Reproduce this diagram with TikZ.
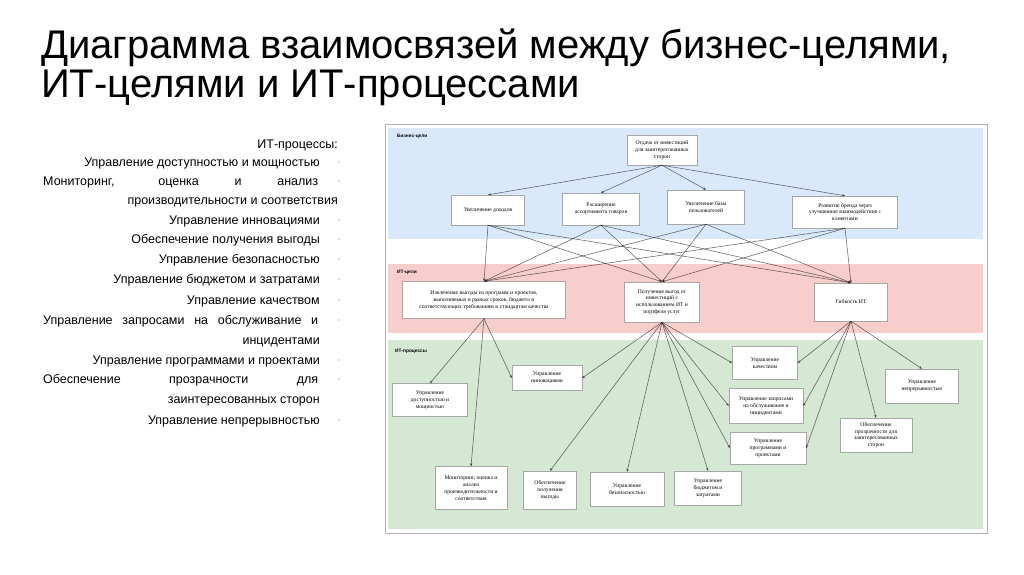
\documentclass[tikz,border=0pt]{standalone}
\usepackage{fontspec}
\setmainfont{Liberation Sans}
\newfontfamily\boxfont{Liberation Serif}
\usetikzlibrary{arrows.meta}

\definecolor{bizfill}{HTML}{DAE8FC}
\definecolor{itfill}{HTML}{F8CECC}
\definecolor{procfill}{HTML}{D5E8D4}

\begin{document}
\begin{tikzpicture}[
    x=1pt, y=-1pt,
    box/.style={draw=gray!70, fill=white, align=center, inner sep=1pt,
        font=\boxfont\fontsize{5.6}{6.8}\selectfont},
    bandname/.style={font=\bfseries\fontsize{4.8}{5}\selectfont, anchor=west, inner sep=0pt},
    link/.style={draw=black!85, draw opacity=0.7, line width=0.55pt,
        -{Stealth[length=3pt,width=2.4pt]}},
    listline/.style={font=\fontsize{12.5}{15}\selectfont, inner sep=0pt},
    headline/.style={font=\fontsize{40}{44}\selectfont, inner sep=0pt, anchor=base west}
]
\useasboundingbox (0,0) rectangle (1024,574);

% title
\node[headline] (t1) at (41,58) {Диаграмма взаимосвязей между бизнес-целями,};
\node[headline] (t2) at (41,97) {ИТ-целями и ИТ-процессами};

% list of IT processes
\node[listline, anchor=base east] (l0) at (338,148) {ИТ-процессы:};
\node[listline, anchor=base east] (l1) at (320,166) {Управление доступностью и мощностью};
\node[listline, anchor=base west] (l2) at (43,185) {\makebox[275pt][s]{Мониторинг, оценка и анализ}};
\node[listline, anchor=base east] (l3) at (338,204) {производительности и соответствия};
\node[listline, anchor=base east] (l4) at (320,224) {Управление инновациями};
\node[listline, anchor=base east] (l5) at (320,243) {Обеспечение получения выгоды};
\node[listline, anchor=base east] (l6) at (320,263) {Управление безопасностью};
\node[listline, anchor=base east] (l7) at (320,283) {Управление бюджетом и затратами};
\node[listline, anchor=base east] (l8) at (320,304) {Управление качеством};
\node[listline, anchor=base west] (l9) at (43,324) {\makebox[275pt][s]{Управление запросами на обслуживание и}};
\node[listline, anchor=base east] (l10) at (320,344) {инцидентами};
\node[listline, anchor=base east] (l11) at (320,364) {Управление программами и проектами};
\node[listline, anchor=base west] (l12) at (43,383) {\makebox[275pt][s]{Обеспечение прозрачности для}};
\node[listline, anchor=base east] (l13) at (320,403) {заинтересованных сторон};
\node[listline, anchor=base east] (l14) at (320,424) {Управление непрерывностью};
\foreach \y in {166,185,224,243,263,283,304,324,364,383,424}
    \fill[gray!55] (339,\y-4) circle (0.8pt);

% frame and bands
\draw[gray!60, line width=1pt, fill=white] (385,124) rectangle (987,533);
\fill[bizfill] (388,128) rectangle (983,239);
\fill[itfill] (388,264) rectangle (983,333);
\fill[procfill] (388,340) rectangle (983,529);
\node[bandname] (biz) at (397,136) {Бизнес-цели};
\node[bandname] (itg) at (397,272) {ИТ-цели};
\node[bandname] (itp) at (395,351) {ИТ-процессы};

% business goals
\node[box, minimum width=70pt, minimum height=30pt] (top) at (662,150)
    {Отдача от инвестиций\\для заинтересованных\\сторон};
\node[box, minimum width=73pt, minimum height=30pt] (b1) at (488,210) {Увеличение доходов};
\node[box, minimum width=77pt, minimum height=32pt] (b2) at (601,209)
    {Расширение\\ассортимента товаров};
\node[box, minimum width=77pt, minimum height=34pt] (b3) at (706,207)
    {Увеличение базы\\пользователей};
\node[box, minimum width=105pt, minimum height=32pt] (b4) at (845,212)
    {Развитие бренда через\\улучшенное взаимодействие с\\клиентами};

% IT goals
\node[box, minimum width=163pt, minimum height=37pt] (g1) at (484,300)
    {Извлечение выгоды из программ и проектов,\\выполняемых в рамках сроков, бюджета и\\соответствующих требованиям и стандартам качества};
\node[box, minimum width=75pt, minimum height=40pt] (g2) at (662,302)
    {Получение выгод от\\инвестиций с\\использованием ИТ и\\портфеля услуг};
\node[box, minimum width=73pt, minimum height=38pt] (g3) at (851,302) {Гибкость ИТ};

% IT processes
\node[box, minimum width=75pt, minimum height=33pt] (p1) at (430,400)
    {Управление\\доступностью и\\мощностью};
\node[box, minimum width=70pt, minimum height=25pt] (p2) at (547,378)
    {Управление\\инновациями};
\node[box, minimum width=65pt, minimum height=33pt] (p3) at (765,363)
    {Управление\\качеством};
\node[box, minimum width=74pt, minimum height=35pt] (p4) at (766,406)
    {Управление запросами\\на обслуживание и\\инцидентами};
\node[box, minimum width=76pt, minimum height=32pt] (p5) at (768,448)
    {Управление\\программами и\\проектами};
\node[box, minimum width=73pt, minimum height=34pt] (p6) at (922,386)
    {Управление\\непрерывностью};
\node[box, minimum width=72pt, minimum height=34pt] (p7) at (876,435)
    {Обеспечение\\прозрачности для\\заинтересованных\\сторон};
\node[box, minimum width=72pt, minimum height=43pt] (p8) at (471,488)
    {Мониторинг, оценка и\\анализ\\производительности и\\соответствия};
\node[box, minimum width=53pt, minimum height=38pt] (p9) at (550,490)
    {Обеспечение\\получения\\выгоды};
\node[box, minimum width=74pt, minimum height=34pt] (p10) at (627,489)
    {Управление\\безопасностью};
\node[box, minimum width=67pt, minimum height=34pt] (p11) at (708,488)
    {Управление\\бюджетом и\\затратами};

% business goals -> business goals
\path (top.south) edge[link] (b1.north) edge[link] (b2.north)
                  edge[link] (b3.north) edge[link] (b4.north);

% business goals -> IT goals
\path (b1.south) edge[link] (g1.north) edge[link] (g2.north) edge[link] (g3.north);
\path (b2.south) edge[link] (g1.north) edge[link] (g2.north) edge[link] (g3.north);
\path (b3.south) edge[link] (g1.north) edge[link] (g2.north) edge[link] (g3.north);
\path (b4.south) edge[link] (g1.north) edge[link] (g2.north) edge[link] (g3.north);

% IT goals -> IT processes
\path (g1.south) edge[link] (p1.north) edge[link] (p8.north) edge[link] (p2.west);
\path (g2.south) edge[link] (p2.east) edge[link] (p9.north) edge[link] (p10.north)
                 edge[link] (p11.north) edge[link] (p5.west) edge[link] (p4.west)
                 edge[link] (p3.west);
\path (g3.south) edge[link] (p3.east) edge[link] (p4.east) edge[link] (p5.east)
                 edge[link] (p7.north) edge[link] (p6.north);

\end{tikzpicture}
\end{document}
